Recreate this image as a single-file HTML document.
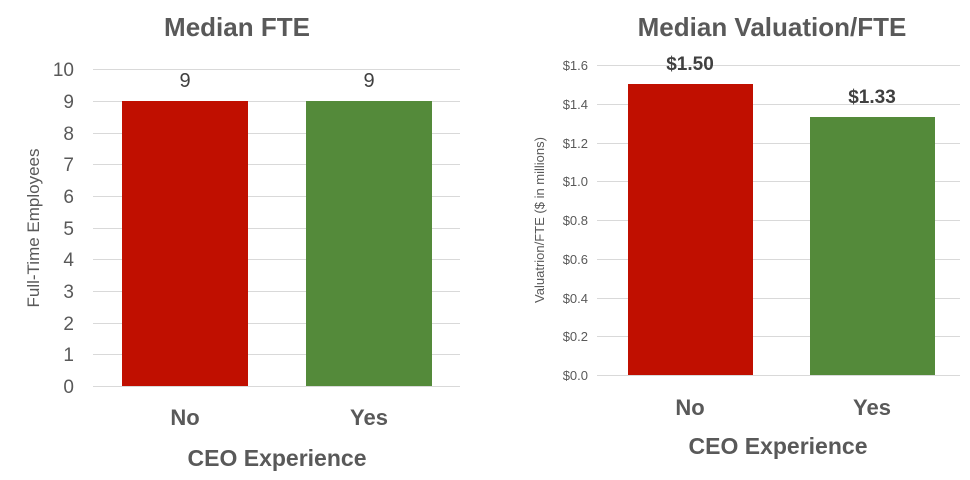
<!DOCTYPE html>
<html><head><meta charset="utf-8"><style>
body{margin:0;background:#fff;}
svg{display:block;font-family:"Liberation Sans",sans-serif;}
</style></head><body>
<svg width="970" height="480" viewBox="0 0 970 480">
<!-- Left chart -->
<text x="237" y="36" text-anchor="middle" font-size="26" font-weight="bold" fill="#595959">Median FTE</text>
<g stroke="#d9d9d9" stroke-width="1">
<line x1="93" x2="460" y1="69.5" y2="69.5"/><line x1="93" x2="460" y1="101.5" y2="101.5"/>
<line x1="93" x2="460" y1="133.5" y2="133.5"/><line x1="93" x2="460" y1="164.5" y2="164.5"/>
<line x1="93" x2="460" y1="196.5" y2="196.5"/><line x1="93" x2="460" y1="228.5" y2="228.5"/>
<line x1="93" x2="460" y1="259.5" y2="259.5"/><line x1="93" x2="460" y1="291.5" y2="291.5"/>
<line x1="93" x2="460" y1="323.5" y2="323.5"/><line x1="93" x2="460" y1="354.5" y2="354.5"/>
<line x1="93" x2="460" y1="386.5" y2="386.5"/>
</g>
<g font-size="19" fill="#595959" text-anchor="end">
<text x="74" y="76">10</text><text x="74" y="108">9</text><text x="74" y="140">8</text>
<text x="74" y="171">7</text><text x="74" y="203">6</text><text x="74" y="235">5</text>
<text x="74" y="266">4</text><text x="74" y="298">3</text><text x="74" y="330">2</text>
<text x="74" y="361">1</text><text x="74" y="393">0</text>
</g>
<rect x="122" y="101" width="126" height="285" fill="#C00F00"/>
<rect x="306" y="101" width="126" height="285" fill="#548A3A"/>
<text x="185" y="87" text-anchor="middle" font-size="20" fill="#404040">9</text>
<text x="369" y="87" text-anchor="middle" font-size="20" fill="#404040">9</text>
<text transform="translate(39,228) rotate(-90)" text-anchor="middle" font-size="17" fill="#595959">Full-Time Employees</text>
<text x="185" y="425" text-anchor="middle" font-size="22" font-weight="bold" fill="#595959">No</text>
<text x="369" y="425" text-anchor="middle" font-size="22" font-weight="bold" fill="#595959">Yes</text>
<text x="277" y="466" text-anchor="middle" font-size="23" font-weight="bold" fill="#595959">CEO Experience</text>
<!-- Right chart -->
<text x="772" y="36" text-anchor="middle" font-size="26" font-weight="bold" fill="#595959">Median Valuation/FTE</text>
<g stroke="#d9d9d9" stroke-width="1">
<line x1="597" x2="960" y1="65.5" y2="65.5"/><line x1="597" x2="960" y1="104.5" y2="104.5"/>
<line x1="597" x2="960" y1="143.5" y2="143.5"/><line x1="597" x2="960" y1="181.5" y2="181.5"/>
<line x1="597" x2="960" y1="220.5" y2="220.5"/><line x1="597" x2="960" y1="259.5" y2="259.5"/>
<line x1="597" x2="960" y1="298.5" y2="298.5"/><line x1="597" x2="960" y1="336.5" y2="336.5"/>
<line x1="597" x2="960" y1="375.5" y2="375.5"/>
</g>
<g font-size="13" fill="#595959" text-anchor="end">
<text x="588" y="70">$1.6</text><text x="588" y="109">$1.4</text><text x="588" y="148">$1.2</text>
<text x="588" y="186">$1.0</text><text x="588" y="225">$0.8</text><text x="588" y="264">$0.6</text>
<text x="588" y="303">$0.4</text><text x="588" y="341">$0.2</text><text x="588" y="380">$0.0</text>
</g>
<rect x="628" y="84" width="125" height="291" fill="#C00F00"/>
<rect x="810" y="117" width="125" height="258" fill="#548A3A"/>
<text x="690" y="70" text-anchor="middle" font-size="19" font-weight="bold" fill="#404040">$1.50</text>
<text x="872" y="103" text-anchor="middle" font-size="19" font-weight="bold" fill="#404040">$1.33</text>
<text transform="translate(544,220) rotate(-90)" text-anchor="middle" font-size="13" fill="#595959">Valuatrion/FTE ($ in millions)</text>
<text x="690" y="415" text-anchor="middle" font-size="22" font-weight="bold" fill="#595959">No</text>
<text x="872" y="415" text-anchor="middle" font-size="22" font-weight="bold" fill="#595959">Yes</text>
<text x="778" y="454" text-anchor="middle" font-size="23" font-weight="bold" fill="#595959">CEO Experience</text>
</svg>
</body></html>
